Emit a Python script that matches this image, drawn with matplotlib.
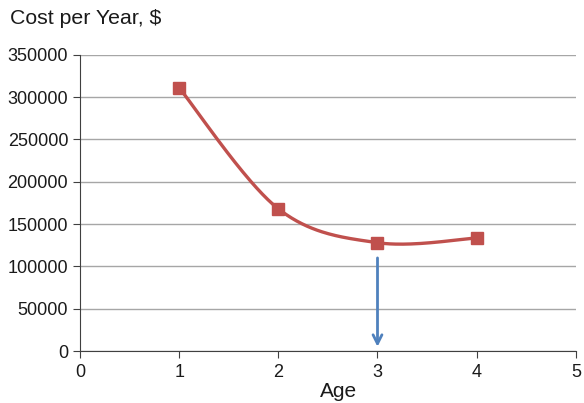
import numpy as np
import matplotlib.pyplot as plt

plt.rcParams['font.family'] = ['Liberation Sans', 'DejaVu Sans']

# Data
age = [1, 2, 3, 4]
cost = [311000, 168000, 128000, 133500]
arrow_x = 3
arrow_top = 110000
arrow_bottom = 5000


def smooth(xs, ys, n=60):
    # Excel-style smoothed line (Catmull-Rom as cubic Bezier)
    p = np.column_stack([xs, ys]).astype(float)
    p = np.vstack([p[0], p, p[-1]])
    t = np.linspace(0, 1, n)[:, None]
    out = []
    for i in range(1, len(p) - 2):
        p0, p1 = p[i], p[i + 1]
        c1 = p0 + (p[i + 1] - p[i - 1]) / 6
        c2 = p1 - (p[i + 2] - p[i]) / 6
        seg = ((1 - t) ** 3) * p0 + 3 * ((1 - t) ** 2) * t * c1 + 3 * (1 - t) * t ** 2 * c2 + t ** 3 * p1
        out.append(seg)
    out = np.vstack(out)
    return out[:, 0], out[:, 1]


fig = plt.figure(figsize=(5.84, 4.03), dpi=100)
ax = fig.add_axes([0.137, 0.129, 0.849, 0.735])

sx, sy = smooth(age, cost)
ax.plot(sx, sy, color='#C0504D', lw=2.4, solid_capstyle='round', zorder=3)
ax.plot(age, cost, ls='none', marker='s', ms=9, color='#C0504D', zorder=4)

ax.annotate('', xy=(arrow_x, arrow_bottom), xytext=(arrow_x, arrow_top),
            arrowprops=dict(arrowstyle='->', color='#4F81BD', lw=2,
                            mutation_scale=16, shrinkA=0, shrinkB=0), zorder=5)

ax.set_xlim(0, 5)
ax.set_ylim(0, 350000)
ax.set_xticks(range(0, 6))
ax.set_yticks(range(0, 350001, 50000))
ax.yaxis.grid(True, color='#A6A6A6', lw=1)
ax.set_axisbelow(True)
for s in ['top', 'right']:
    ax.spines[s].set_visible(False)
for s in ['left', 'bottom']:
    ax.spines[s].set_color('#404040')
ax.tick_params(direction='out', length=5, color='#404040', labelsize=13, colors='#1a1a1a')
ax.tick_params(axis='x', pad=4)
ax.set_xlabel('Age', fontsize=15, color='#1a1a1a')
ax.xaxis.set_label_coords(0.522, -0.105)
fig.text(0.017, 0.955, 'Cost per Year, $', fontsize=15.3, color='#1a1a1a', va='center')

fig.savefig('out.png', dpi=100)
